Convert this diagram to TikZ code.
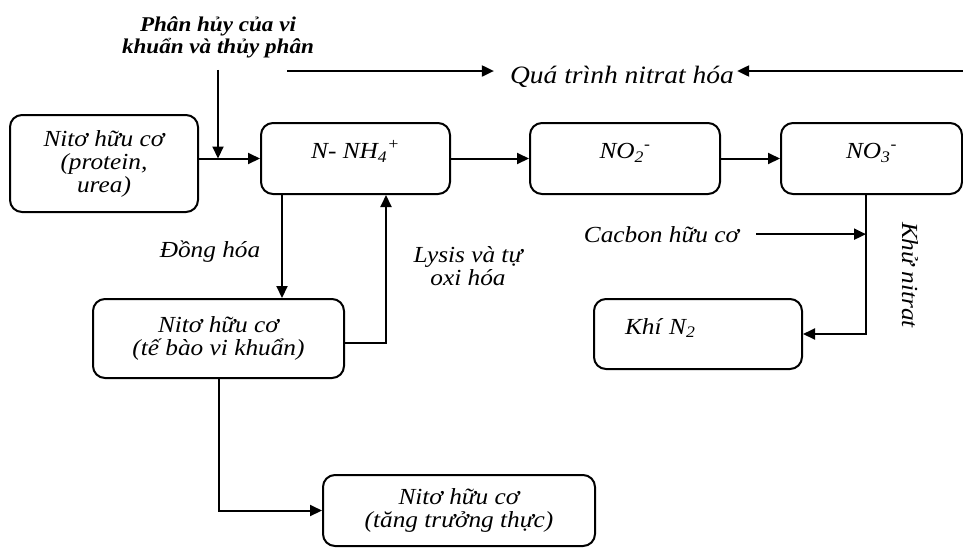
\documentclass[tikz,border=0pt]{standalone}
\usepackage{fontspec}
\setmainfont{Liberation Serif}[FakeStretch=1.1]
\usetikzlibrary{arrows.meta,positioning,calc}
\tikzset{
  stage/.style={rectangle,rounded corners=12pt,draw=black,line width=2pt,
                align=center,inner sep=0pt,font=\itshape\fontsize{23}{23}\selectfont},
  flat/.style={text height=8pt,text depth=8pt},
  lbl/.style={align=center,inner sep=0pt,font=\itshape\fontsize{23}{23}\selectfont},
  arr/.style={-{Triangle[length=12pt,width=11pt]},draw=black,line width=2pt},
}

\begin{document}
\begin{tikzpicture}[x=1pt,y=-1pt]
  \useasboundingbox (0,0) rectangle (963,547);
  % boxes
  \node[stage,minimum width=188pt,minimum height=97pt] (orgN) at (104,163.5)
    {Nitơ hữu cơ\\(protein,\\urea)};
  \node[stage,flat,minimum width=189pt,minimum height=71pt] (nh4) at (355.5,158.5)
    {N- NH\textsubscript{4}\textsuperscript{+}};
  \node[stage,flat,minimum width=190pt,minimum height=71pt] (no2) at (625,158.5)
    {NO\textsubscript{2}\textsuperscript{-}};
  \node[stage,flat,minimum width=181pt,minimum height=71pt] (no3) at (871.5,158.5)
    {NO\textsubscript{3}\textsuperscript{-}};
  \node[stage,minimum width=251pt,minimum height=79pt] (cell) at (218.5,338.5)
    {Nitơ hữu cơ\\(tế bào vi khuẩn)};
  \node[stage,minimum width=272pt,minimum height=71pt] (growth) at (459,510.5)
    {Nitơ hữu cơ\\(tăng trưởng thực)};
  \node[stage,flat,align=left,text width=146pt,inner xsep=31pt,minimum height=70pt]
    (gas) at (698,334) {Khí N\textsubscript{2}};
  % labels
  \node[lbl,font=\bfseries\itshape\fontsize{21}{22}\selectfont] (hydro) at (218,37)
    {Phân hủy của vi\\khuẩn và thủy phân};
  \node[lbl,font=\itshape\fontsize{25}{25}\selectfont,anchor=base] (nitr) at (622,83)
    {Quá trình nitrat hóa};
  \node[lbl,anchor=base] (assim) at (210,257) {Đồng hóa};
  \node[lbl] (lysis) at (468,266) {Lysis và tự\\oxi hóa};
  \node[lbl,anchor=base] (carb) at (661.5,242) {Cacbon hữu cơ};
  \node[lbl,rotate=-90] (denit) at (910,275) {Khử nitrat};
  \coordinate (tl) at (287,71);
  \coordinate (tr) at (963,71);
  \coordinate (dn) at ([xshift=-5.5pt]no3.south);
  % connectors
  \draw[arr] (orgN.east |- nh4.west) -- (nh4.west);
  \draw[arr] ([yshift=-12pt]hydro.south) -- (hydro.south |- nh4.west);
  \draw[arr] (nh4) -- (no2);
  \draw[arr] (no2) -- (no3);
  \draw[arr] (tl) -- ([xshift=-16pt]tl -| nitr.west);
  \draw[arr] (tr) -- ([xshift=3pt]tr -| nitr.east);
  \draw[arr] ([xshift=-73.5pt]nh4.south) -- ([xshift=-73.5pt]nh4.south |- cell.north);
  \draw[arr] ([yshift=-4.5pt]cell.east) -| ([xshift=30.5pt]nh4.south);
  \draw[arr] (cell.south) |- (growth.west);
  \draw[arr] (dn) |- (gas.east);
  \draw[arr] ([xshift=17pt]carb.east) -- (carb.east -| dn);
\end{tikzpicture}
\end{document}
